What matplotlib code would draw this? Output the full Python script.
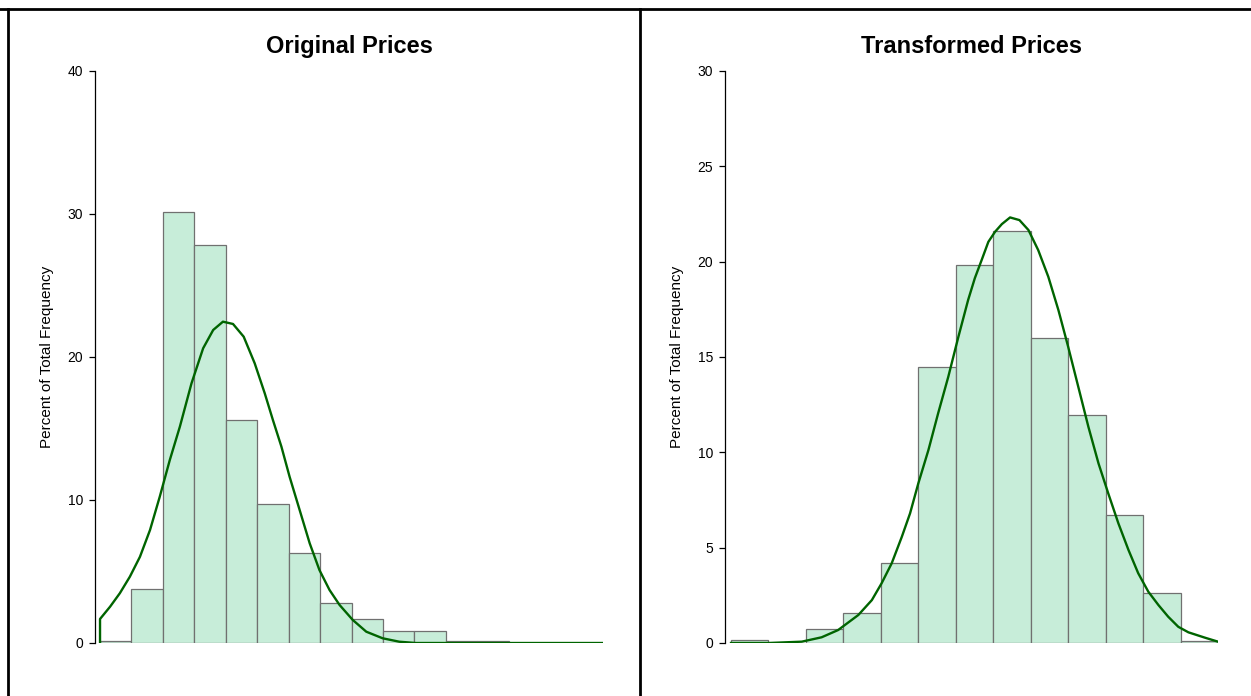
import matplotlib
matplotlib.use('Agg')
import matplotlib.pyplot as plt
from matplotlib.lines import Line2D

plt.rcParams['font.family'] = ['Liberation Sans', 'DejaVu Sans']

# histogram bins (percent of total frequency), one bar per bin
orig_pct = [0.15, 3.8, 30.15, 27.8, 15.6, 9.7, 6.3, 2.8, 1.68, 0.85, 0.85, 0.15, 0.15]
trans_pct = [0.15, 0.0, 0.73, 1.57, 4.2, 14.47, 19.8, 21.6, 16.0, 11.96, 6.7, 2.62, 0.1]

# fitted normal curves (x in bin units)
orig_curve_x = [0, 0, 0.32, 0.63, 0.95, 1.27, 1.59, 1.9, 2.22, 2.54, 2.91, 3.28, 3.6, 3.91,
                4.23, 4.57, 4.92, 5.24, 5.5, 5.77, 6.03, 6.35, 6.67, 6.98, 7.3, 7.62, 8.04,
                8.47, 8.99, 9.52, 10.05, 15.97]
orig_curve_y = [0, 1.68, 2.54, 3.48, 4.64, 6.03, 7.9, 10.23, 12.8, 15.13, 18.16, 20.61, 21.89,
                22.47, 22.31, 21.42, 19.56, 17.46, 15.59, 13.73, 11.63, 9.3, 6.97, 5.1, 3.71,
                2.66, 1.61, 0.79, 0.33, 0.09, 0, 0]
trans_curve_x = [0, 1.0, 1.89, 2.42, 2.86, 3.4, 3.76, 4.02, 4.29, 4.56, 4.78, 5.0, 5.27, 5.53,
                 5.8, 6.07, 6.33, 6.51, 6.69, 6.87, 7.05, 7.23, 7.45, 7.7, 7.94, 8.2, 8.47,
                 8.74, 9.0, 9.27, 9.54, 9.81, 10.07, 10.34, 10.61, 10.87, 11.14, 11.41, 11.67,
                 11.94, 12.21, 12.65, 13.0]
trans_curve_y = [0, 0, 0.07, 0.3, 0.68, 1.47, 2.25, 3.13, 4.18, 5.57, 6.8, 8.37, 10.12, 12.05,
                 13.96, 16.06, 17.99, 19.14, 20.08, 21.04, 21.57, 21.97, 22.32, 22.18, 21.66,
                 20.61, 19.21, 17.46, 15.54, 13.44, 11.34, 9.42, 7.85, 6.28, 4.88, 3.66, 2.69,
                 1.99, 1.38, 0.85, 0.56, 0.28, 0.07]

W, H = 1251, 696
fig = plt.figure(figsize=(W / 100, H / 100), dpi=100)

bar_fc = '#c7edd9'
bar_ec = '#707070'
line_c = '#006400'


def panel(rect, pct, cx, cy, title, xmax, ymax, yticks):
    ax = fig.add_axes(rect)
    xs = [i + 0.5 for i in range(len(pct))]
    ax.bar(xs, pct, width=1.0, color=bar_fc, edgecolor=bar_ec, linewidth=0.9)
    ax.plot(cx, cy, color=line_c, linewidth=1.7)
    ax.set_xlim(-0.16, xmax)
    ax.set_ylim(0, ymax)
    ax.set_yticks(yticks)
    ax.set_xticks([])
    for s in ['top', 'right', 'bottom']:
        ax.spines[s].set_visible(False)
    ax.spines['left'].set_linewidth(0.9)
    ax.tick_params(axis='y', direction='out', length=4.5, width=0.9, labelsize=10, pad=4)
    ax.set_ylabel('Percent of Total Frequency', fontsize=11)
    ax.yaxis.set_label_coords(-48 / (rect[2] * W), 0.5)
    ax.yaxis.label.set_va('center')
    ax.set_title(title, fontsize=17, fontweight='bold', pad=13)
    return ax


panel([95 / W, 53 / H, 508 / W, 572 / H], orig_pct, orig_curve_x, orig_curve_y,
      'Original Prices', 16, 40, [0, 10, 20, 30, 40])
panel([725 / W, 53 / H, 493 / W, 572 / H], trans_pct, trans_curve_x, trans_curve_y,
      'Transformed Prices', 13, 30, [0, 5, 10, 15, 20, 25, 30])

# panel frame lines
fig.add_artist(Line2D([0, 1], [1 - 8.5 / H, 1 - 8.5 / H], color='black', linewidth=2))
fig.add_artist(Line2D([7.5 / W, 7.5 / W], [0, 1 - 8.5 / H], color='black', linewidth=2))
fig.add_artist(Line2D([640 / W, 640 / W], [0, 1 - 8.5 / H], color='black', linewidth=2))

fig.savefig('out.png', dpi=100)
